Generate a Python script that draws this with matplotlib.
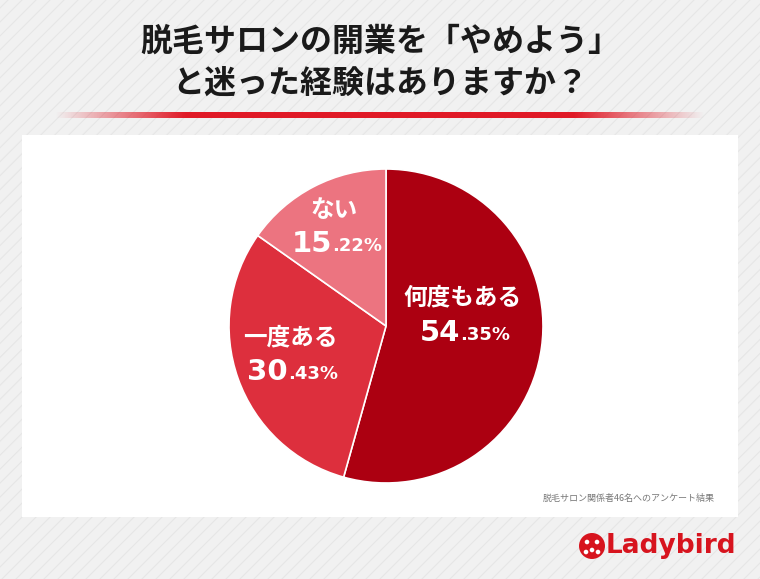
import matplotlib
matplotlib.use("Agg")
import matplotlib.pyplot as plt
import numpy as np
from matplotlib.patches import Rectangle, Circle

plt.rcParams['font.family'] = ['Noto Sans CJK JP', 'DejaVu Sans']

labels = ["何度もある", "一度ある", "ない"]
values = [54.35, 30.43, 15.22]
colors = ["#ac0011", "#dd2f3d", "#ec7480"]
title_lines = ["脱毛サロンの開業を「やめよう」", "と迷った経験はありますか？"]
note = "脱毛サロン関係者46名へのアンケート結果"

W, H = 760, 579
fig = plt.figure(figsize=(W/100, H/100), dpi=100)
fig.patch.set_facecolor("#f1f1f1")
ax = fig.add_axes([0, 0, 1, 1])
ax.set_xlim(0, W); ax.set_ylim(0, H); ax.axis("off")
Y = lambda y: H - y

for x0 in range(-600, 800, 14):
    ax.plot([x0, x0 + 580], [0, H], color="#e6e6e6", lw=0.8, zorder=0)

ax.text(380, Y(42), title_lines[0], ha="center", va="center", fontsize=23, fontweight="bold", color="#1a1a1a")
ax.text(380, Y(84), title_lines[1], ha="center", va="center", fontsize=23, fontweight="bold", color="#1a1a1a")

xs = np.linspace(0, 1, 400)
alpha = np.clip(np.minimum(xs, 1 - xs) / 0.2, 0, 1)
img = np.zeros((1, 400, 4)); img[..., 0] = 0.88; img[..., 1] = 0.1; img[..., 2] = 0.15; img[..., 3] = alpha
ax.imshow(img, extent=[55, 705, Y(118), Y(112)], aspect="auto", zorder=1)

ax.add_patch(Rectangle((22, Y(517)), 716, 382, facecolor="white", edgecolor="none", zorder=1))

wedges, _ = ax.pie(values, colors=colors, startangle=90, counterclock=False,
                   center=(386, Y(326)), radius=157, frame=True,
                   wedgeprops=dict(edgecolor="white", linewidth=1.2))
for w in wedges: w.set_zorder(2)
ax.set_xlim(0, W); ax.set_ylim(0, H); ax.axis("off")

pos = [(462, 297, 333), (290, 337, 372), (334, 210, 244)]
for (lab, v, (cx, ly, vy)) in zip(labels, values, pos):
    ax.text(cx, Y(ly), lab, ha="center", va="center", fontsize=17, fontweight="bold", color="white", zorder=3)
    s = f"{v:.2f}"
    ip, dp = s.split(".")
    ax.text(cx - 2, Y(vy), ip, ha="right", va="center", fontsize=21, fontweight="bold", color="white", family="DejaVu Sans", zorder=3)
    ax.text(cx - 2, Y(vy) - 2, "." + dp + "%", ha="left", va="center", fontsize=13, fontweight="bold", color="white", family="DejaVu Sans", zorder=3)

ax.text(715, Y(498), note, ha="right", va="center", fontsize=6.5, color="#777777", zorder=3)

ax.add_patch(Circle((592, Y(546)), 13, facecolor="#d7141e", edgecolor="none", zorder=3))
for dx, dy in [(-5, -4), (5, -4), (0, 4), (-6, 6), (6, 6)]:
    ax.add_patch(Circle((592 + dx, Y(546) - dy), 2.3, facecolor="white", zorder=4))
ax.text(606, Y(546), "Ladybird", ha="left", va="center", fontsize=19, fontweight="bold", color="#d7141e", family="DejaVu Sans", zorder=3)

fig.savefig("out.png", dpi=100)
